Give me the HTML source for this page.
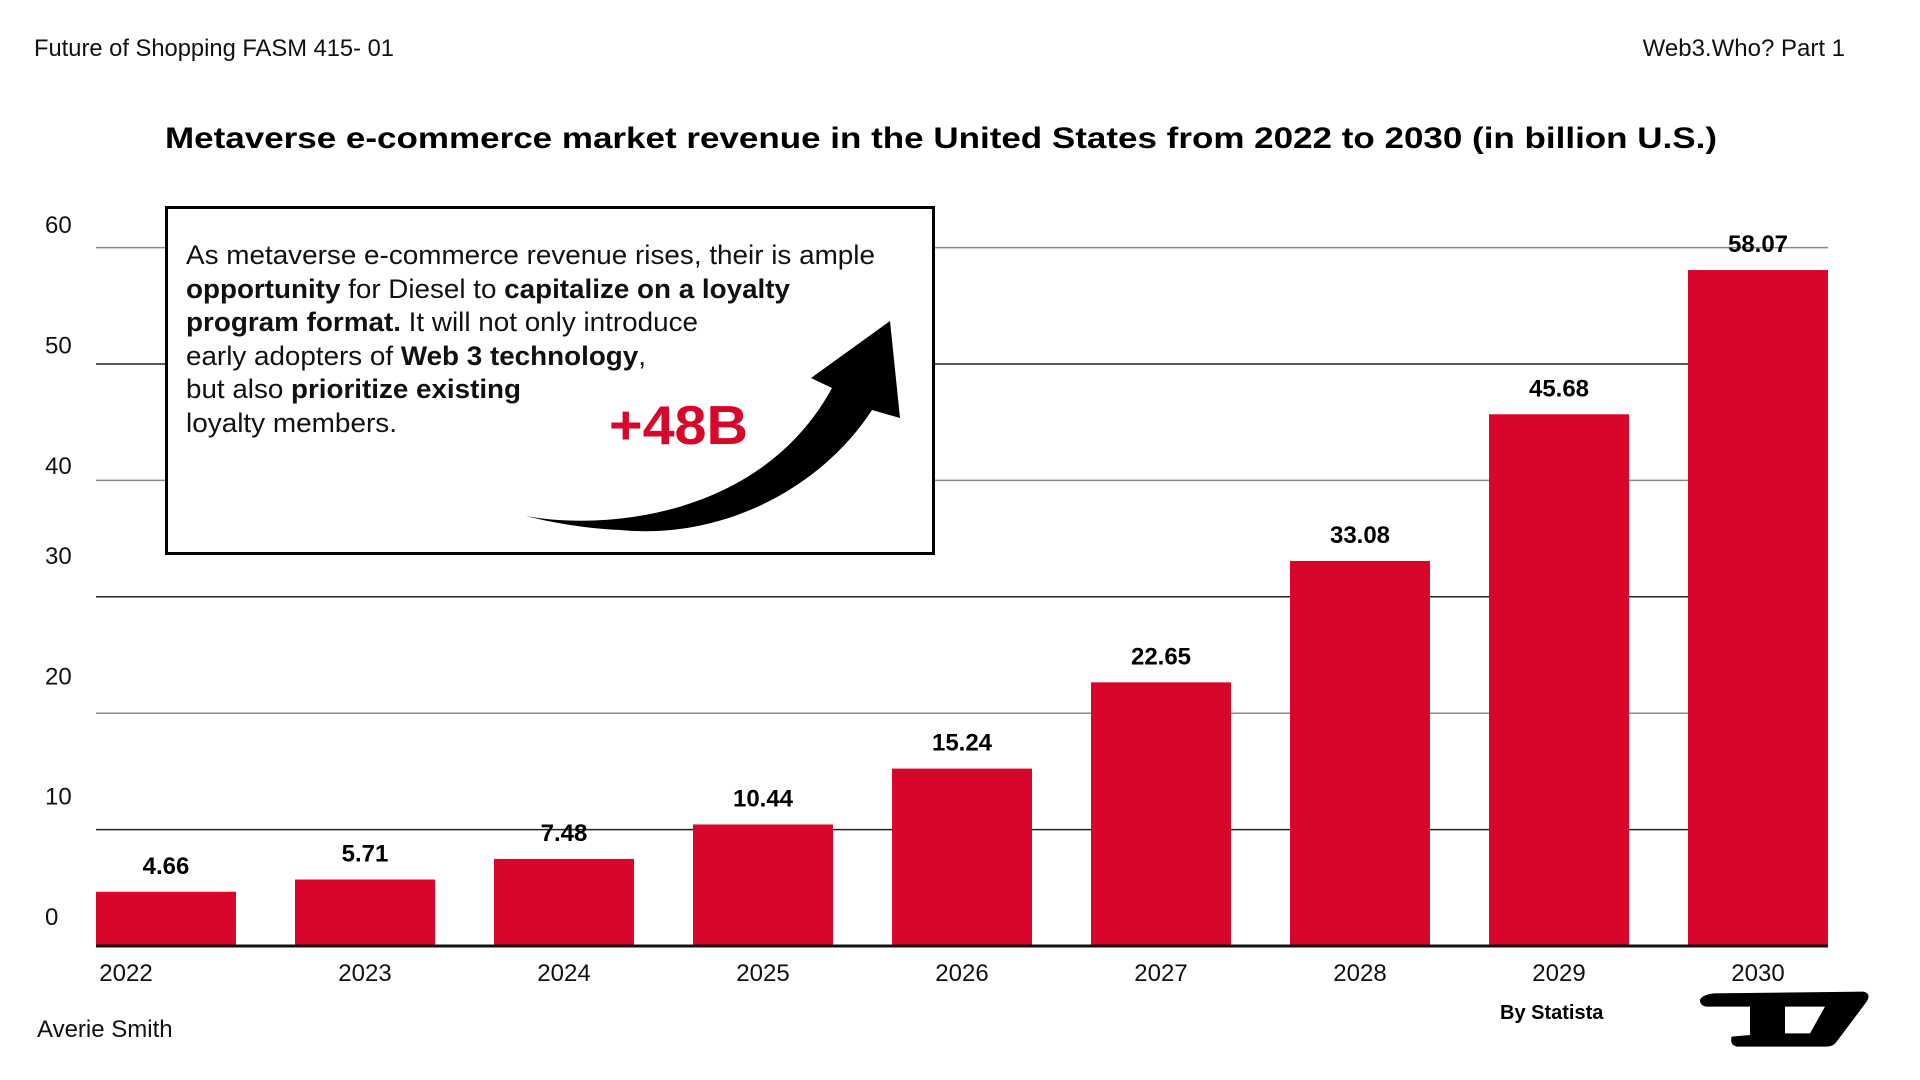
<!DOCTYPE html>
<html><head><meta charset="utf-8"><style>
html,body{margin:0;padding:0;background:#fff;}
svg{display:block;}
text{font-family:"Liberation Sans",Arial,sans-serif;}
</style></head><body>
<svg id="chart" width="1920" height="1080" viewBox="0 0 1920 1080">
<text x="34" y="56" font-size="24" fill="#111" textLength="360" lengthAdjust="spacingAndGlyphs">Future of Shopping FASM 415- 01</text>
<text x="1845" y="56" font-size="24" fill="#111" text-anchor="end">Web3.Who? Part 1</text>
<text x="165" y="148" font-size="30" font-weight="bold" fill="#000" textLength="1552" lengthAdjust="spacingAndGlyphs">Metaverse e-commerce market revenue in the United States from 2022 to 2030 (in billion U.S.)</text>
<g id="grid"></g>
<g id="ylabels"></g>
<g id="bars"></g>
<g id="xlabels"></g>
<line x1="96" y1="946" x2="1828" y2="946" stroke="#111" stroke-width="3"/>

<g>
<rect x="166.5" y="207.5" width="767" height="346" fill="#fff" stroke="#000" stroke-width="3"/>
<g font-size="27" fill="#111">
<text x="186" y="264" textLength="689" lengthAdjust="spacingAndGlyphs">As metaverse e-commerce revenue rises, their is ample</text>
<text x="186" y="298" textLength="604" lengthAdjust="spacingAndGlyphs"><tspan font-weight="bold">opportunity</tspan> for Diesel to <tspan font-weight="bold">capitalize on a loyalty</tspan></text>
<text x="186" y="331" textLength="512" lengthAdjust="spacingAndGlyphs"><tspan font-weight="bold">program format.</tspan> It will not only introduce</text>
<text x="186" y="365" textLength="460" lengthAdjust="spacingAndGlyphs">early adopters of <tspan font-weight="bold">Web 3 technology</tspan>,</text>
<text x="186" y="398" textLength="335" lengthAdjust="spacingAndGlyphs">but also <tspan font-weight="bold">prioritize existing</tspan></text>
<text x="186" y="432" textLength="211" lengthAdjust="spacingAndGlyphs">loyalty members.</text>
</g>
<text x="609" y="444" font-size="55" font-weight="bold" fill="#d8062b" textLength="139" lengthAdjust="spacingAndGlyphs">+48B</text>
<path d="M526,516 C600,530 760,520 832,388 L811,378 L890,321 L900,418 L872,410 C820,490 720,540 620,530 C580,528 550,522 526,516 Z" fill="#000"/>
</g>

<text x="37" y="1037" font-size="24" fill="#111">Averie Smith</text>
<text x="1500" y="1019" font-size="20" font-weight="bold" fill="#000">By Statista</text>
<g transform="translate(1700,880) scale(0.3333)">
<path fill="#000" fill-rule="evenodd" d="M0,360 Q5,345 40,340 L490,335 Q515,340 500,365 L410,485 Q400,500 380,500 L110,500 Q88,495 95,470 L150,465 L150,380 L20,380 Q0,378 0,360 Z M255,380 L375,380 L330,460 L255,460 Z"/>
</g>
</svg>
<script>
const categories = ["2022","2023","2024","2025","2026","2027","2028","2029","2030"];
const revenue = [4.66, 5.71, 7.48, 10.44, 15.24, 22.65, 33.08, 45.68, 58.07];
const valueLabels = ["4.66","5.71","7.48","10.44","15.24","22.65","33.08","45.68","58.07"];
const yTicks = [0, 10, 20, 30, 40, 50, 60];
const yTickLabels = ["0","10","20","30","40","50","60"];

const NS = "http://www.w3.org/2000/svg";
const y = v => 946 - v * 11.64;
const xBand = i => 96 + i * 199;
const barW = 140;
const labelY = v => 925 - v * 12.03 + (v >= 40 ? 30 : 0);
function mk(tag, attrs, parent){ const e=document.createElementNS(NS,tag); for(const k in attrs) e.setAttribute(k,attrs[k]); parent.appendChild(e); return e; }

const grid = document.getElementById('grid');
const yl = document.getElementById('ylabels');
yTicks.forEach((t,i)=>{
  if(t>0){
    const l = mk('line',{x1:96,x2:1828,y1:y(t),y2:y(t),stroke:(t===10||t===30||t===50)?'#222':'#8a8a8a','stroke-width':1.5},grid);
    
    
  }
  const tx = mk('text',{x:45,y:labelY(t),'font-size':24,fill:'#111'},yl);
  tx.textContent = yTickLabels[i];
  
  
});

const bars = document.getElementById('bars');
const xl = document.getElementById('xlabels');
categories.forEach((c,i)=>{
  const x0 = xBand(i);
  const r = mk('rect',{x:x0,y:y(revenue[i]),width:barW,height:946-y(revenue[i]),fill:'#d8062b'},bars);
  
  
  const v = mk('text',{x:x0+barW/2,y:y(revenue[i])-18,'font-size':24,'font-weight':'bold','text-anchor':'middle',fill:'#000'},bars);
  v.textContent = valueLabels[i];
  
  
  const xt = mk('text',{x:i===0?x0+30:x0+barW/2,y:981,'font-size':24,'text-anchor':'middle',fill:'#111'},xl);
  xt.textContent = c;
  
  
});
</script>
</body></html>
